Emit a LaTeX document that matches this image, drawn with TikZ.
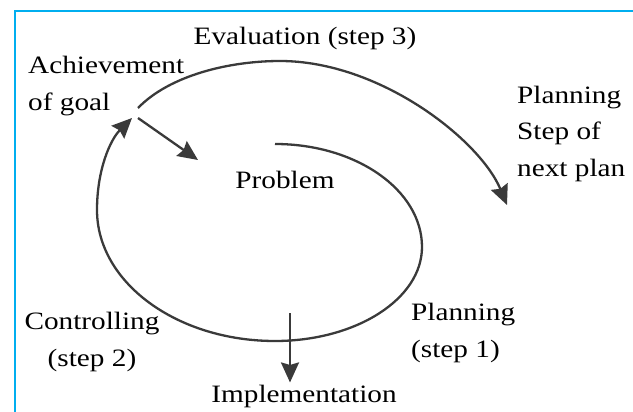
\documentclass[tikz,border=0pt]{standalone}
\usepackage{fontspec}
\setmainfont{Liberation Serif}[FakeStretch=1.17]
\usetikzlibrary{arrows.meta}
\definecolor{framecyan}{HTML}{00AEEF}
\definecolor{arrowgrey}{HTML}{3A3A3A}
\tikzset{
  lbl/.style={inner sep=0pt, font=\fontsize{25}{37}\selectfont},
  arr/.style={draw=arrowgrey, line width=2.3pt, -{Stealth[length=20pt,width=18pt,inset=2.5pt]}},
}
\begin{document}
\begin{tikzpicture}[x=1pt,y=-1pt]
\useasboundingbox (0,0) rectangle (633,412);
\draw[framecyan, line width=2.5pt] (15,412) -- (15,11) -- (633,11);
% labels (base = last line)
\node[lbl, anchor=base] (eval) at (305,45) {Evaluation (step 3)};
\node[lbl, anchor=base west, align=left] (goal) at (28,111) {Achievement\\of goal};
\node[lbl, anchor=base west, align=left] (nextplan) at (517,177) {Planning\\Step of\\next plan};
\node[lbl, anchor=base] (problem) at (285,189) {Problem};
\node[lbl, anchor=base west, align=left] (plan) at (411,357) {Planning\\(step 1)};
\node[lbl, anchor=base, align=center] (ctrl) at (92,366) {Controlling\\(step 2)};
\node[lbl, anchor=base] (impl) at (304,402) {Implementation};
% ends of the curves
\coordinate (spiralstart) at (275,144);
\coordinate (goalin) at (132,118);
\coordinate (goalout) at (138,108);
\coordinate (goalarr) at (138,118);
\coordinate (probarr) at (198,160);
\coordinate (nextpt) at (507,205);
\coordinate (implarr) at (290,313);
% spiral
\draw[arr] (spiralstart) arc[start angle=-90, end angle=0, x radius=147, y radius=103]
  arc[start angle=0, end angle=90, x radius=147, y radius=94]
  arc[start angle=90, end angle=180, x radius=178, y radius=131]
  .. controls +(0,-40) and (110,140) .. (goalin);
\draw[arr] (goalout) .. controls (170,75) and (230,61) .. (280,61)
  .. controls (380,61) and (480,140) .. (nextpt);
\draw[arr] (goalarr) -- (probarr);
\draw[arr, shorten >=2pt] (implarr) -- (implarr |- impl.north);
\end{tikzpicture}
\end{document}
